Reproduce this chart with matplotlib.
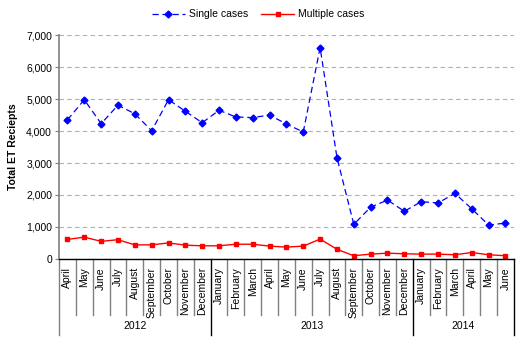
import matplotlib.pyplot as plt

plt.rcParams['font.family'] = ['Liberation Sans', 'DejaVu Sans']

# Monthly ET receipts, April 2012 - June 2014
months = ["April", "May", "June", "July", "August", "September", "October",
          "November", "December", "January", "February", "March", "April",
          "May", "June", "July", "August", "September", "October", "November",
          "December", "January", "February", "March", "April", "May", "June"]
single_cases = [4350, 4980, 4230, 4810, 4540, 4010, 4980, 4620, 4260, 4650,
                4440, 4420, 4500, 4220, 3970, 6610, 3170, 1080, 1620, 1840,
                1490, 1790, 1750, 2050, 1570, 1060, 1120]
multiple_cases = [610, 680, 550, 600, 440, 440, 500, 430, 410, 410, 460, 460,
                  400, 370, 400, 620, 300, 100, 150, 180, 160, 150, 150, 130,
                  200, 130, 100]
years = ["2012", "2013", "2014"]
year_spans = [(0, 8), (9, 20), (21, 26)]

x = list(range(len(months)))

fig = plt.figure(figsize=(5.27, 3.48), dpi=100)
ax = fig.add_axes([0.112, 0.256, 0.863, 0.643])

ax.plot(x, single_cases, color="#0000ff", lw=0.9, ls=(0, (5, 3)),
        marker="D", ms=3.5, mec="#0000ff", mfc="#0000ff", label="Single cases")
ax.plot(x, multiple_cases, color="#ff0000", lw=1.0, marker="s", ms=3.5,
        label="Multiple cases")

ax.set_xlim(-0.5, len(months) - 0.5)
ax.set_ylim(0, 7000)
ax.set_yticks(range(0, 7001, 1000))
ax.set_yticklabels([f"{v:,}" for v in range(0, 7001, 1000)], fontsize=7.5)
ax.yaxis.grid(True, color="#b0b0b0", ls=(0, (4, 3)), lw=0.8)
ax.set_axisbelow(True)
ax.tick_params(axis="y", length=3, width=0.8, color="#808080", pad=2)

ax.set_xticks(x)
ax.set_xticklabels(months, rotation=90, fontsize=7.5, va="top")
ax.tick_params(axis="x", length=0, pad=6)

for side in ["top", "right"]:
    ax.spines[side].set_visible(False)
ax.spines["left"].set_color("#808080")
ax.spines["left"].set_linewidth(1.2)
ax.spines["bottom"].set_color("black")
ax.spines["bottom"].set_linewidth(1.0)

# category separators below the axis: short for months, long for years
trans = ax.get_xaxis_transform()
year_edges = {-0.5, 8.5, 20.5, len(months) - 0.5}
for i in range(len(months) + 1):
    xe = i - 0.5
    if xe in year_edges:
        ax.plot([xe, xe], [0, -0.34], transform=trans, clip_on=False,
                color="#808080" if xe == -0.5 else "black", lw=1.0)
    else:
        ax.plot([xe, xe], [0, -0.25], transform=trans, clip_on=False,
                color="#808080", lw=1.0)

for label, (a, b) in zip(years, year_spans):
    ax.text((a + b) / 2, -0.3, label, transform=trans, ha="center",
            va="center", fontsize=7.5)

ax.set_ylabel("Total ET Reciepts", fontsize=7.5, fontweight="bold", labelpad=6)

fig.legend(loc="upper center", bbox_to_anchor=(0.49, 1.0), ncol=2,
           frameon=False, fontsize=7.5, handlelength=3.2, columnspacing=1.2,
           handletextpad=0.4)

fig.savefig("out.png", dpi=100)
